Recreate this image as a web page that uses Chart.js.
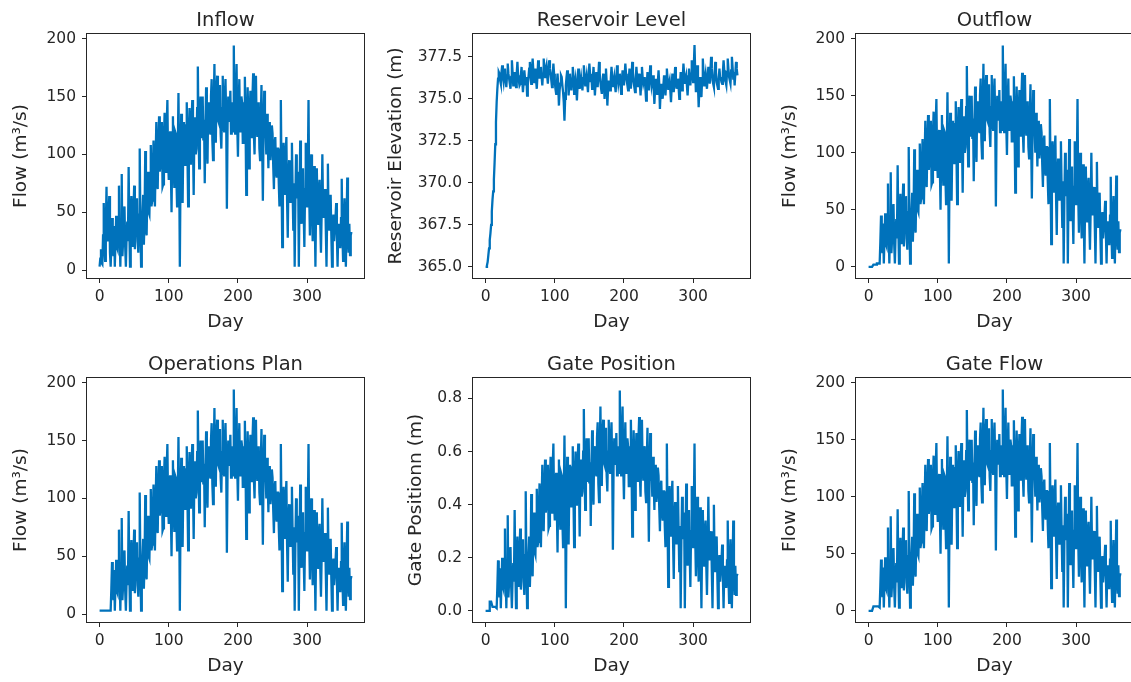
<!DOCTYPE html>
<html lang="en">
<head>
    <meta charset="UTF-8">
    <title>Reservoir Operations</title>
    <script src="https://cdn.jsdelivr.net/npm/chart.js@4.4.1/dist/chart.umd.min.js"></script>
    <style>
        html, body {
            margin: 0;
            padding: 0;
            width: 1131px;
            height: 682px;
            overflow: hidden;
            background: #ffffff;
        }

        .panel {
            position: absolute;
            width: 380px;
            height: 340px;
        }
    </style>
</head>
<body>
<div class="panel" style="left: 0; top: 0"><canvas id="c0" width="380" height="340"></canvas></div>
<div class="panel" style="left: 386px; top: 0"><canvas id="c1" width="380" height="340"></canvas></div>
<div class="panel" style="left: 769px; top: 0"><canvas id="c2" width="380" height="340"></canvas></div>
<div class="panel" style="left: 0; top: 344px"><canvas id="c3" width="380" height="340"></canvas></div>
<div class="panel" style="left: 386px; top: 344px"><canvas id="c4" width="380" height="340"></canvas></div>
<div class="panel" style="left: 769px; top: 344px"><canvas id="c5" width="380" height="340"></canvas></div>
<script>
    // daily values, day 0 .. 364
    var inflow = [3, 10, 18, 6, 5, 30, 58, 20, 8, 35, 72, 28, 25, 48, 64, 15, 3, 22, 45, 30,
        12, 38, 3, 25, 47, 20, 18, 40, 73, 30, 3, 35, 83, 12, 25, 50, 55, 20, 3, 28,
        42, 25, 89, 35, 3, 45, 64, 28, 20, 52, 73, 18, 38, 60, 62, 25, 15, 48, 105, 40,
        3, 30, 48, 65, 22, 45, 103, 38, 30, 70, 85, 50, 48, 78, 108, 55, 60, 90, 112, 68,
        55, 95, 128, 75, 70, 110, 133, 85, 92, 120, 128, 72, 74, 115, 136, 90, 85, 125, 147, 95,
        78, 110, 120, 88, 50, 105, 133, 90, 72, 120, 118, 80, 55, 100, 153, 95, 3, 85, 135, 105,
        58, 110, 128, 95, 90, 125, 145, 100, 55, 115, 140, 92, 98, 130, 147, 110, 65, 120, 132, 100,
        105, 140, 176, 120, 88, 135, 150, 115, 118, 150, 112, 130, 75, 125, 158, 110, 92, 145, 140, 120,
        118, 150, 165, 112, 95, 140, 178, 125, 110, 155, 168, 130, 128, 150, 160, 118, 105, 140, 168, 125,
        120, 150, 165, 130, 53, 125, 150, 140, 128, 155, 118, 135, 145, 120, 194, 130, 118, 150, 178, 125,
        98, 140, 165, 120, 130, 150, 145, 110, 110, 140, 167, 125, 65, 120, 158, 130, 88, 135, 155, 115,
        130, 150, 170, 118, 100, 140, 168, 125, 115, 145, 140, 105, 95, 130, 160, 110, 60, 120, 155, 115,
        120, 100, 135, 115, 88, 120, 128, 95, 105, 125, 118, 90, 70, 110, 115, 85, 80, 105, 105, 75,
        55, 90, 147, 80, 20, 85, 110, 70, 65, 100, 115, 60, 28, 80, 95, 65, 58, 90, 110, 70,
        35, 75, 3, 60, 100, 70, 62, 85, 3, 65, 112, 55, 40, 80, 88, 50, 20, 70, 110, 60,
        55, 85, 147, 65, 30, 70, 100, 55, 25, 65, 90, 45, 3, 60, 88, 50, 40, 70, 78, 40,
        15, 50, 100, 55, 45, 65, 70, 35, 3, 50, 92, 45, 35, 60, 65, 30, 3, 40, 48, 25,
        25, 45, 58, 30, 3, 35, 40, 20, 20, 45, 79, 30, 8, 35, 62, 25, 3, 40, 80, 30,
        15, 40, 13, 30, 33];

    // first 16 days differ while the reservoir fills, afterwards they follow the inflow
    var outflowStart = [0, 0, 0, 0, 0, 0, 0, 2, 2, 2, 2, 2, 3, 3, 3, 3];
    var planStart = [3, 3, 3, 3, 3, 3, 3, 3, 3, 3, 3, 3, 3, 3, 3, 3];
    var gateFlowStart = [0, 0, 0, 0, 0, 0, 0, 4, 4, 4, 4, 4, 4, 4, 4, 4];

    var level = [365.0, 365.0, 365.1, 365.3, 365.7, 366.1, 366.6, 367.0, 367.5, 368.3,
        369.0, 369.5, 370.2, 371.2, 372.3, 373.6, 374.8, 375.6, 376.2, 376.6,
        376.5, 376.1, 375.9, 376.6, 377.0, 376.3, 376.0, 376.5, 376.8, 376.1, 375.7, 376.4, 377.1, 376.5, 376.2, 375.9, 375.6, 376.3, 377.3, 376.6,
        375.8, 376.2, 376.6, 376.0, 375.7, 376.5, 377.2, 376.4, 376.1, 375.8, 375.9, 376.4, 376.9, 376.1, 375.4, 376.0, 376.7, 376.2, 375.8, 376.3,
        375.2, 375.8, 376.3, 376.8, 377.2, 376.4, 375.9, 376.6, 377.4, 376.7, 376.0, 376.5, 376.8, 376.1, 375.6, 376.4, 377.3, 376.6, 376.2, 376.8,
        376.9, 376.3, 375.8, 376.5, 377.4, 376.7, 376.3, 376.8, 377.0, 376.4, 375.9, 376.6, 377.3, 376.8, 376.5, 376.1, 375.7, 376.4, 377.1, 376.5,
        376.0, 375.6, 375.3, 375.9, 376.5, 375.8, 374.6, 375.5, 375.9, 376.4, 376.3, 375.8, 375.4, 374.8, 373.7, 375.0, 375.8, 376.3, 376.7, 376.1,
        375.2, 375.9, 376.5, 376.0, 375.5, 376.2, 376.9, 376.4, 375.3, 375.9, 376.2, 375.7, 374.9, 375.8, 376.8, 376.2, 375.6, 376.0, 376.3, 375.9,
        375.5, 376.2, 377.0, 376.4, 375.8, 376.1, 376.4, 375.9, 375.4, 376.3, 377.1, 376.5, 376.0, 376.3, 375.6, 376.2, 376.9, 376.1, 375.2, 375.9,
        376.6, 376.1, 375.7, 376.4, 377.2, 376.5, 376.0, 375.6, 375.3, 375.9, 376.5, 375.8, 375.0, 375.7, 376.8, 376.0, 374.6, 375.5, 376.1, 375.8,
        375.5, 376.2, 376.9, 376.3, 375.7, 376.0, 376.3, 375.8, 375.4, 376.2, 377.0, 376.4, 375.9, 376.2, 376.5, 375.9, 375.3, 376.0, 376.7, 376.2,
        375.8, 376.4, 377.1, 376.5, 376.1, 375.8, 375.5, 376.1, 376.8, 376.2, 375.6, 376.3, 377.2, 376.6, 376.0, 375.7, 375.4, 376.2, 376.9, 376.3,
        375.7, 376.1, 376.5, 375.9, 375.2, 376.0, 376.9, 376.3, 375.9, 376.1, 376.3, 375.6, 374.9, 375.8, 376.6, 376.1, 375.5, 376.2, 377.0, 376.4,
        375.8, 376.1, 376.4, 375.6, 374.7, 375.6, 376.2, 375.8, 375.3, 376.0, 376.7, 375.9, 374.4, 375.4, 375.9, 375.5, 375.0, 375.8, 376.4, 375.9,
        375.2, 375.9, 376.8, 376.2, 375.6, 375.9, 376.1, 375.5, 374.8, 375.7, 376.5, 376.0, 375.4, 376.1, 376.9, 376.3, 375.6, 375.9, 376.2, 375.7,
        375.0, 375.8, 376.6, 376.0, 375.5, 376.3, 377.1, 376.5, 375.9, 376.2, 376.4, 375.8, 375.2, 376.0, 376.8, 376.3, 375.8, 376.5, 377.3, 376.6,
        376.0, 377.0, 378.2, 376.6, 375.4, 376.2, 377.0, 375.8, 374.5, 375.6, 376.3, 375.8, 375.1, 376.2, 377.4, 376.5, 375.8, 376.2, 376.5, 376.0,
        375.6, 376.3, 376.9, 376.4, 375.9, 376.7, 377.5, 376.8, 376.1, 375.9, 375.7, 376.5, 377.2, 376.6, 376.0, 375.8, 375.6, 376.2, 376.8, 376.3,
        376.2, 376.0, 375.9, 376.6, 377.3, 376.7, 376.1, 376.0, 375.8, 376.6, 377.4, 376.8, 376.3, 376.1, 375.9, 376.7, 377.5, 376.9, 376.2, 376.6,
        375.8, 376.5, 377.2, 376.8, 376.4];

    var gatePosition = [0, 0, 0, 0, 0, 0, 0.035, 0.035, 0.035, 0.035, 0.015, 0.015, 0.015, 0.015, 0.015, 0.015,
        0.01, 0.09, 0.19, 0.13,
        0.05, 0.16, 0.01, 0.11, 0.20, 0.09, 0.08, 0.17, 0.31, 0.13, 0.01, 0.15, 0.36, 0.05, 0.11, 0.22, 0.24, 0.09, 0.01, 0.12,
        0.18, 0.11, 0.38, 0.15, 0.01, 0.19, 0.28, 0.12, 0.09, 0.22, 0.31, 0.08, 0.16, 0.26, 0.27, 0.11, 0.06, 0.21, 0.45, 0.17,
        0.01, 0.13, 0.21, 0.28, 0.09, 0.19, 0.44, 0.16, 0.13, 0.30, 0.37, 0.22, 0.21, 0.34, 0.46, 0.24, 0.26, 0.39, 0.48, 0.29,
        0.24, 0.41, 0.55, 0.32, 0.30, 0.47, 0.57, 0.37, 0.40, 0.52, 0.55, 0.31, 0.32, 0.49, 0.58, 0.39, 0.37, 0.54, 0.63, 0.41,
        0.34, 0.47, 0.52, 0.38, 0.22, 0.45, 0.57, 0.39, 0.31, 0.52, 0.51, 0.34, 0.24, 0.43, 0.66, 0.41, 0.01, 0.37, 0.58, 0.45,
        0.25, 0.47, 0.55, 0.41, 0.39, 0.54, 0.62, 0.43, 0.24, 0.49, 0.60, 0.40, 0.42, 0.56, 0.63, 0.47, 0.28, 0.52, 0.57, 0.43,
        0.45, 0.60, 0.76, 0.52, 0.38, 0.58, 0.65, 0.49, 0.51, 0.65, 0.48, 0.56, 0.32, 0.54, 0.68, 0.47, 0.40, 0.62, 0.60, 0.52,
        0.51, 0.65, 0.71, 0.48, 0.41, 0.60, 0.77, 0.54, 0.47, 0.67, 0.72, 0.56, 0.55, 0.65, 0.69, 0.51, 0.45, 0.60, 0.72, 0.54,
        0.52, 0.65, 0.71, 0.56, 0.23, 0.54, 0.65, 0.60, 0.55, 0.67, 0.51, 0.58, 0.62, 0.52, 0.83, 0.56, 0.51, 0.65, 0.77, 0.54,
        0.42, 0.60, 0.71, 0.52, 0.56, 0.65, 0.62, 0.47, 0.47, 0.60, 0.72, 0.54, 0.28, 0.52, 0.68, 0.56, 0.38, 0.58, 0.67, 0.49,
        0.56, 0.65, 0.73, 0.51, 0.43, 0.60, 0.72, 0.54, 0.49, 0.62, 0.60, 0.45, 0.41, 0.56, 0.69, 0.47, 0.26, 0.52, 0.67, 0.49,
        0.52, 0.43, 0.58, 0.49, 0.38, 0.52, 0.55, 0.41, 0.45, 0.54, 0.51, 0.39, 0.30, 0.47, 0.49, 0.37, 0.34, 0.45, 0.45, 0.32,
        0.24, 0.39, 0.63, 0.34, 0.09, 0.37, 0.47, 0.30, 0.28, 0.43, 0.49, 0.26, 0.12, 0.34, 0.41, 0.28, 0.25, 0.39, 0.47, 0.30,
        0.15, 0.32, 0.01, 0.26, 0.43, 0.30, 0.27, 0.37, 0.01, 0.28, 0.48, 0.24, 0.17, 0.34, 0.38, 0.22, 0.09, 0.30, 0.47, 0.26,
        0.24, 0.37, 0.63, 0.28, 0.13, 0.30, 0.43, 0.24, 0.11, 0.28, 0.39, 0.19, 0.01, 0.26, 0.38, 0.22, 0.17, 0.30, 0.34, 0.17,
        0.06, 0.22, 0.43, 0.24, 0.19, 0.28, 0.30, 0.15, 0.01, 0.22, 0.40, 0.19, 0.15, 0.26, 0.28, 0.13, 0.01, 0.17, 0.21, 0.11,
        0.11, 0.19, 0.25, 0.13, 0.01, 0.15, 0.17, 0.09, 0.09, 0.19, 0.34, 0.13, 0.03, 0.15, 0.27, 0.11, 0.01, 0.17, 0.34, 0.13,
        0.06, 0.17, 0.06, 0.13, 0.14];

    var dayTicks = [0, 100, 200, 300];
    var flowTicks = [0, 50, 100, 150, 200];
    var levelTicks = [365, 367.5, 370, 372.5, 375, 377.5];
    var gateTicks = [0, 0.2, 0.4, 0.6, 0.8];

    var days = [];
    for (var d = 0; d < inflow.length; d++) {
        days.push(d);
    }

    function afterStart(start) {
        return start.concat(inflow.slice(start.length));
    }

    var outflow = afterStart(outflowStart);
    var plan = afterStart(planStart);
    var gateFlow = afterStart(gateFlowStart);

    var TEXT = '#262626';
    var LINE = '#0072BB';
    Chart.defaults.font.family = "'DejaVu Sans', sans-serif";
    Chart.defaults.color = TEXT;

    // box round the plot area plus the title above it
    var framePlugin = {
        id: 'frame',
        afterDraw: function (chart, args, opts) {
            var ctx = chart.ctx;
            var a = chart.chartArea;
            ctx.save();
            ctx.strokeStyle = TEXT;
            ctx.lineWidth = 1;
            ctx.strokeRect(Math.round(a.left) - 0.5, Math.round(a.top) - 0.5,
                Math.round(a.right - a.left) + 1, Math.round(a.bottom - a.top) + 1);
            ctx.fillStyle = TEXT;
            ctx.font = "19.5px 'DejaVu Sans'";
            ctx.textAlign = 'center';
            ctx.textBaseline = 'alphabetic';
            ctx.fillText(opts.text, (a.left + a.right) / 2, a.top - 8);
            ctx.restore();
        }
    };

    function makeChart(id, title, yLabel, values, yMin, yMax, yTicks, decimals, labelPad) {
        var points = [];
        for (var i = 0; i < values.length; i++) {
            points.push({x: days[i], y: values[i]});
        }
        var ctx = document.getElementById(id).getContext('2d');
        return new Chart(ctx, {
            type: 'line',
            data: {
                datasets: [{
                    data: points,
                    borderColor: LINE,
                    borderWidth: 2.3,
                    pointRadius: 0,
                    tension: 0,
                    fill: false
                }]
            },
            options: {
                responsive: false,
                animation: false,
                devicePixelRatio: 1,
                layout: {padding: {top: 34, right: 16, left: 0, bottom: 0}},
                plugins: {
                    legend: {display: false},
                    tooltip: {enabled: false},
                    frame: {text: title}
                },
                scales: {
                    x: {
                        type: 'linear',
                        min: -18.2,
                        max: 382.2,
                        afterBuildTicks: function (s) {
                            s.ticks = dayTicks.map(function (v) { return {value: v}; });
                        },
                        afterFit: function (s) { s.height = 62; },
                        grid: {drawOnChartArea: false, drawTicks: true, tickLength: 5, color: TEXT},
                        border: {display: false},
                        ticks: {padding: 5, font: {size: 15.5}, color: TEXT, maxRotation: 0},
                        title: {display: true, text: 'Day', font: {size: 18.5}, color: TEXT, padding: {top: 0, bottom: 6.5}}
                    },
                    y: {
                        type: 'linear',
                        min: yMin,
                        max: yMax,
                        afterBuildTicks: function (s) {
                            s.ticks = yTicks.map(function (v) { return {value: v}; });
                        },
                        afterFit: function (s) { s.width = 87; },
                        grid: {drawOnChartArea: false, drawTicks: true, tickLength: 5, color: TEXT},
                        border: {display: false},
                        ticks: {
                            padding: 6,
                            font: {size: 15.5},
                            color: TEXT,
                            callback: function (v) { return Number(v).toFixed(decimals); }
                        },
                        title: {display: true, text: yLabel, font: {size: 18.5}, color: TEXT, padding: {top: labelPad, bottom: 0}}
                    }
                }
            },
            plugins: [framePlugin]
        });
    }

    makeChart('c0', 'Inflow', 'Flow (m³/s)', inflow, -6.8, 204, flowTicks, 0, 10);
    makeChart('c1', 'Reservoir Level', 'Reservoir Elevation (m)', level, 364.34, 378.86, levelTicks, 1, -1);
    makeChart('c2', 'Outflow', 'Flow (m³/s)', outflow, -9.7, 204, flowTicks, 0, 10);
    makeChart('c3', 'Operations Plan', 'Flow (m³/s)', plan, -6.8, 204, flowTicks, 0, 10);
    makeChart('c4', 'Gate Position', 'Gate Positionn (m)', gatePosition, -0.042, 0.877, gateTicks, 1, 19);
    makeChart('c5', 'Gate Flow', 'Flow (m³/s)', gateFlow, -9.7, 204, flowTicks, 0, 10);
</script>
</body>
</html>
